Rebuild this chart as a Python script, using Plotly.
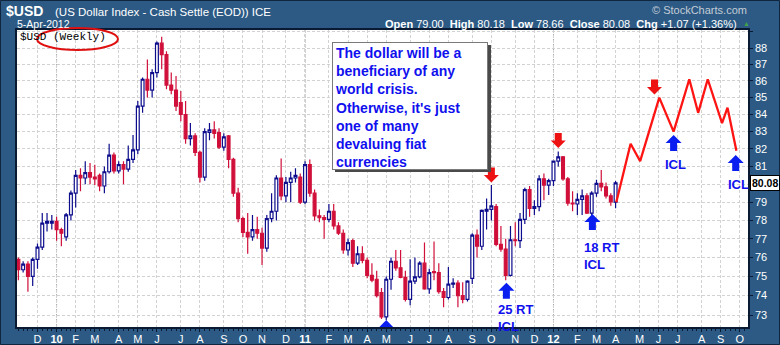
import math
import pandas as pd
import plotly.graph_objects as go

# ---------------- data (weekly candles) ----------------
first_week = "2009-11-09"
opens = [75.9, 75.35, 75.65, 75.0, 75.9, 76.55, 77.85, 77.85, 77.95, 77.5,
         77.1, 78.3, 79.5, 80.5, 80.35, 80.65, 80.4, 80.5, 79.9, 80.7,
         81.65, 80.75, 81.1, 80.85, 81.4, 81.95, 84.5, 86.1, 85.45, 86.5,
         88.3, 87.6, 85.75, 85.45, 84.7, 84.0, 82.6, 82.75, 81.8, 80.4,
         82.95, 83.1, 82.95, 82.1, 82.75, 81.4, 79.5, 78.1, 77.35, 77.1,
         77.5, 77.3, 76.5, 78.1, 78.5, 80.35, 79.35, 80.1, 80.35, 80.4,
         79.0, 81.1, 79.5, 78.25, 78.15, 78.05, 78.5, 77.7, 77.3, 76.4,
         76.9, 75.7, 76.2, 75.85, 75.05, 74.85, 74.15, 72.9, 74.85, 75.8,
         75.45, 74.95, 73.8, 74.75, 74.98, 75.7, 74.35, 75.25, 75.2, 74.2,
         73.9, 74.6, 74.65, 74.0, 73.8, 74.9, 77.2, 76.6, 78.5, 78.6,
         78.75, 76.7, 76.45, 75.05, 76.95, 76.9, 78.05, 79.7, 78.65, 78.75,
         80.3, 79.95, 80.2, 81.3, 81.55, 80.3, 78.95, 78.9, 79.15, 79.35,
         78.4, 79.5, 80.05, 79.85, 79.35, 79.0]
highs = [76.0, 75.8, 75.8, 76.0, 76.75, 78.4, 78.4, 78.3, 78.2, 77.6,
         78.4, 79.65, 80.8, 80.9, 81.3, 81.2, 81.1, 80.6, 81.0, 82.3,
         81.8, 81.3, 81.3, 82.2, 82.8, 84.8, 86.2, 87.3, 86.7, 88.4,
         88.7, 87.8, 86.5, 86.3, 85.4, 84.8, 83.5, 82.9, 81.9, 83.2,
         83.5, 83.6, 83.2, 82.9, 82.8, 81.5, 79.8, 78.2, 78.4, 78.3,
         78.2, 77.6, 78.3, 79.5, 80.5, 81.45, 80.4, 80.7, 80.9, 80.6,
         81.3, 81.4, 79.7, 78.6, 78.3, 78.9, 78.9, 77.9, 77.5, 77.0,
         77.0, 76.6, 76.6, 76.0, 75.7, 75.3, 74.4, 75.0, 76.0, 76.4,
         76.4, 75.3, 75.9, 76.0, 75.8, 76.8, 75.4, 76.85, 75.7, 74.4,
         75.5, 74.9, 74.8, 74.7, 74.8, 77.3, 77.5, 78.6, 79.2, 79.95,
         78.9, 77.7, 77.0, 77.7, 77.9, 78.4, 79.8, 79.9, 79.1, 80.5,
         80.6, 80.3, 81.3, 81.85, 81.6, 80.4, 79.6, 79.5, 79.7, 79.5,
         79.6, 80.25, 80.8, 80.1, 79.5, 80.18]
lows = [74.8, 75.2, 74.2, 74.5, 75.4, 76.4, 77.4, 77.5, 76.9, 76.6,
        76.9, 78.0, 78.7, 79.6, 80.0, 80.0, 79.95, 79.6, 79.5, 80.6,
        80.6, 80.6, 80.0, 80.7, 81.2, 81.7, 84.1, 85.0, 85.0, 86.2,
        86.7, 85.5, 85.2, 84.2, 83.6, 82.3, 82.2, 81.6, 80.1, 80.2,
        82.5, 82.6, 82.0, 81.9, 80.9, 79.3, 77.9, 77.1, 76.2, 76.9,
        77.0, 75.6, 76.3, 77.9, 78.0, 79.1, 79.0, 79.0, 80.1, 78.9,
        78.9, 79.3, 78.0, 77.9, 77.0, 77.9, 77.5, 77.2, 76.2, 76.1,
        75.5, 75.6, 75.7, 74.9, 74.7, 73.9, 72.8, 72.75, 74.3, 75.3,
        74.9, 73.7, 73.5, 74.6, 74.9, 74.3, 74.1, 74.8, 74.1, 73.4,
        73.8, 74.4, 73.4, 73.6, 73.7, 74.6, 76.0, 76.4, 77.5, 78.0,
        76.6, 76.3, 74.8, 75.0, 76.6, 76.5, 77.8, 78.2, 78.3, 78.5,
        79.1, 79.4, 79.9, 81.0, 80.2, 78.8, 78.5, 78.3, 78.3, 78.35,
        78.1, 79.3, 79.6, 79.2, 78.8, 78.66]
closes = [75.35, 75.65, 75.0, 75.9, 76.55, 77.85, 77.95, 77.95, 77.5, 77.3,
          78.3, 79.5, 80.5, 80.35, 80.65, 80.4, 80.3, 79.9, 80.7, 81.65,
          80.75, 81.1, 80.85, 81.4, 81.95, 84.5, 86.1, 85.45, 86.5, 88.3,
          87.6, 85.75, 85.45, 84.5, 84.0, 82.6, 82.75, 81.8, 80.4, 83.0,
          83.1, 82.9, 82.1, 82.7, 81.4, 79.5, 78.1, 77.35, 77.1, 77.5,
          77.3, 76.5, 78.1, 78.5, 80.35, 79.35, 80.1, 80.35, 80.5, 79.0,
          81.1, 79.5, 78.25, 78.15, 78.05, 78.5, 77.7, 77.3, 76.4, 76.8,
          75.7, 76.2, 75.85, 75.05, 74.8, 74.0, 72.9, 74.85, 75.8, 75.45,
          74.95, 73.8, 74.75, 74.98, 75.7, 74.35, 75.2, 75.2, 74.2, 73.9,
          74.6, 74.65, 74.0, 73.8, 74.75, 77.2, 76.6, 78.55, 78.6, 78.8,
          76.7, 76.45, 75.05, 76.95, 76.9, 78.05, 79.7, 78.65, 78.75, 80.3,
          79.95, 80.2, 81.3, 81.55, 80.3, 78.95, 78.9, 79.15, 79.35, 78.4,
          79.5, 80.05, 79.85, 79.35, 79.01, 80.08]

# projected path (red line)
proj_dates = ["2012-04-03", "2012-04-24", "2012-05-08", "2012-06-05", "2012-06-26",
              "2012-07-19", "2012-08-01", "2012-08-15", "2012-09-05", "2012-09-13",
              "2012-09-26"]
proj_values = [79.0, 82.3, 81.3, 85.0, 83.0, 86.1, 84.1, 86.1, 83.5, 84.4, 81.9]

# cycle markers (arrow tips)
top_dates = ["2011-10-03", "2012-01-09", "2012-05-29"]
top_values = [80.1, 82.05, 85.19]
low_dates = ["2011-05-02", "2011-10-25", "2012-02-28", "2012-06-26", "2012-09-25"]
low_values = [72.74, 74.67, 78.35, 82.8, 81.65]

# axis ticks
month_ticks = ["2009-12-07", "2010-01-04", "2010-02-01", "2010-03-01", "2010-04-05",
               "2010-05-03", "2010-05-31", "2010-07-05", "2010-08-02", "2010-09-06",
               "2010-10-04", "2010-11-01", "2010-12-06", "2011-01-03", "2011-02-07",
               "2011-03-07", "2011-04-04", "2011-05-02", "2011-06-06", "2011-07-04",
               "2011-08-01", "2011-09-05", "2011-10-03", "2011-11-07", "2011-12-05",
               "2012-01-02", "2012-02-06", "2012-03-05", "2012-04-02", "2012-05-07",
               "2012-06-04", "2012-07-02", "2012-08-06", "2012-09-03", "2012-10-01"]
month_labels = ["D", "10", "F", "M", "A", "M", "J", "J", "A", "S", "O", "N", "D",
                "11", "F", "M", "A", "M", "J", "J", "A", "S", "O", "N", "D",
                "12", "F", "M", "A", "M", "J", "J", "A", "S", "O"]
price_ticks = list(range(73, 90))
# 80 is hidden behind the last-price tag, 89 has a grid line only
price_labels = [str(v) if v <= 88 and v != 80 else "" for v in price_ticks]

# ---------------- layout helpers ----------------
W_FIG, H_FIG = 780, 345
L, R, T, B = 17, 748, 30, 327
PW, PH = R - L, B - T


def px(x):
    return (x - L) / PW


def py(y):
    return (B - y) / PH


FRAME = "#2c5a84"
FONT = "Liberation Sans, Arial, sans-serif"
BLUE_TXT = "#1010ee"
UP = "#0c0c8c"
DOWN = "#d0103a"

dates = pd.date_range(first_week, periods=len(closes), freq="7D")

fig = go.Figure()
fig.add_trace(go.Candlestick(
    x=dates, open=opens, high=highs, low=lows, close=closes,
    increasing=dict(line=dict(color=UP, width=1.2), fillcolor="white"),
    decreasing=dict(line=dict(color=DOWN, width=1.2), fillcolor=DOWN),
    whiskerwidth=0, showlegend=False, hoverinfo="skip",
))
fig.add_trace(go.Scatter(
    x=proj_dates, y=proj_values, mode="lines",
    line=dict(color="#ff1414", width=2.3), showlegend=False, hoverinfo="skip",
))

shapes = []
# year separators slightly darker
for d, lab in zip(month_ticks, month_labels):
    if lab.isdigit():
        shapes.append(dict(type="line", xref="x", yref="paper", x0=d, x1=d, y0=0, y1=1,
                           line=dict(color="#a8a8a8", width=1, dash="3px,2px"), layer="below"))

down_path = "M0,0 L7.5,7.5 L3.5,7.5 L3.5,15 L-3.5,15 L-3.5,7.5 L-7.5,7.5 Z"
up_path = "M0,0 L8,-8 L3.5,-8 L3.5,-16 L-3.5,-16 L-3.5,-8 L-8,-8 Z"
for d, v in zip(top_dates, top_values):
    shapes.append(dict(type="path", xref="x", yref="y", xsizemode="pixel", ysizemode="pixel",
                       xanchor=d, yanchor=v, path=down_path,
                       fillcolor="#ee1111", line=dict(width=0)))
for d, v in zip(low_dates, low_values):
    shapes.append(dict(type="path", xref="x", yref="y", xsizemode="pixel", ysizemode="pixel",
                       xanchor=d, yanchor=v, path=up_path,
                       fillcolor="#0a1ef0", line=dict(width=0)))

# text box shadow
shapes.append(dict(type="rect", xref="paper", yref="paper",
                   x0=px(335), x1=px(491), y0=py(172), y1=py(45),
                   fillcolor="#4a4a4a", line=dict(width=0)))
# red ellipse round the chart name
shapes.append(dict(type="circle", xref="paper", yref="paper",
                   x0=px(37), x1=px(118), y0=py(50), y1=py(28),
                   line=dict(color="#e01010", width=2)))
# outer frame border
shapes.append(dict(type="rect", xref="paper", yref="paper",
                   x0=px(0.5), x1=px(779.5), y0=py(344.5), y1=py(0.5),
                   line=dict(color="#10263f", width=1)))

ann = []
ann.append(dict(text="<b>$USD</b>", x=px(4), y=py(11), xanchor="left", yanchor="middle",
                font=dict(size=14, color="white", family=FONT)))
ann.append(dict(text="(US Dollar Index - Cash Settle (EOD)) ICE", x=px(53), y=py(12),
                xanchor="left", yanchor="middle", font=dict(size=11.5, color="white", family=FONT)))
ann.append(dict(text="5-Apr-2012", x=px(15), y=py(24), xanchor="left", yanchor="middle",
                font=dict(size=10.5, color="white", family=FONT)))
ann.append(dict(text="© StockCharts.com", x=px(749), y=py(10), xanchor="right", yanchor="middle",
                font=dict(size=11, color="#c4ccd6", family=FONT)))
ann.append(dict(text=(f"<b>Open</b> {opens[-1]:.2f}  <b>High</b> {highs[-1]:.2f}  "
                      f"<b>Low</b> {lows[-1]:.2f}  <b>Close</b> {closes[-1]:.2f}  "
                      f"<b>Chg</b> +1.07 (+1.36%)"),
                x=px(739), y=py(23.5), xanchor="right", yanchor="middle",
                font=dict(size=11, color="white", family=FONT)))
ann.append(dict(text="▲", x=px(741), y=py(23), xanchor="left", yanchor="middle",
                font=dict(size=7, color="#3fa34d", family=FONT)))
ann.append(dict(text="$USD (Weekly)", x=px(18), y=py(37), xanchor="left", yanchor="middle",
                font=dict(size=11, color="black", family="Liberation Mono, DejaVu Sans Mono, monospace")))
ann.append(dict(text=("The dollar will be a<br>beneficiary of any<br>world crisis.<br>"
                      "Otherwise, it's just<br>one of many<br>devaluing fiat<br>currencies"),
                x=px(332), y=py(42), xanchor="left", yanchor="top", align="left",
                width=150, height=122, valign="top",
                bgcolor="white", bordercolor="#7a7a7a", borderwidth=1, borderpad=2,
                font=dict(size=14, color=BLUE_TXT, family=FONT, weight="bold")))
for txt, x, y in [("25 RT<br>ICL", 496, 300), ("18 RT<br>ICL", 582, 238),
                  ("ICL", 663, 155), ("ICL", 726, 175)]:
    ann.append(dict(text=f"<b>{txt}</b>", x=px(x), y=py(y), xanchor="left", yanchor="top",
                    align="left", font=dict(size=13, color=BLUE_TXT, family=FONT)))
ann.append(dict(text=f"<b>{closes[-1]:.2f}</b>", xref="paper", yref="y", x=1, xshift=2,
                y=math.log10(closes[-1]), xanchor="left", yanchor="middle",
                bgcolor="white", bordercolor="#000000", borderwidth=1, borderpad=1,
                font=dict(size=10.5, color="black", family=FONT)))
for a in ann:
    a.setdefault("xref", "paper")
    a.setdefault("yref", "paper")
    a["showarrow"] = False

fig.update_layout(
    width=W_FIG, height=H_FIG, autosize=False,
    margin=dict(l=L, r=W_FIG - R, t=T, b=H_FIG - B, autoexpand=False),
    paper_bgcolor=FRAME, plot_bgcolor="white",
    shapes=shapes, annotations=ann, showlegend=False,
    boxgap=0.15,
    xaxis=dict(
        type="date", range=["2009-11-07", "2012-10-13"],
        rangeslider=dict(visible=False), automargin=False,
        tickmode="array", tickvals=month_ticks,
        ticktext=[f"<b>{t}</b>" if t.isdigit() else t for t in month_labels],
        tickfont=dict(size=11, color="white", family=FONT),
        ticks="outside", ticklen=3, tickcolor="#0a1a33", ticklabelstandoff=-2,
        showgrid=True, gridcolor="#d2d2d2", griddash="3px,2px", gridwidth=1,
        minor=dict(tickmode="linear", tick0=first_week, dtick=7 * 24 * 3600 * 1000,
                   ticks="outside", ticklen=2, tickcolor="#0a1a33", showgrid=False),
        showline=True, linecolor="#0a1a33", linewidth=1.5, mirror=True,
        zeroline=False, fixedrange=True,
    ),
    yaxis=dict(
        type="log", range=[math.log10(72.39), math.log10(89.12)], side="right",
        automargin=False,
        tickmode="array", tickvals=price_ticks, ticktext=price_labels,
        tickfont=dict(size=11, color="white", family=FONT),
        ticks="outside", ticklen=3, tickcolor="#0a1a33",
        showgrid=True, gridcolor="#d2d2d2", griddash="3px,2px", gridwidth=1,
        showline=True, linecolor="#0a1a33", linewidth=1.5, mirror=True,
        zeroline=False, fixedrange=True,
    ),
)

fig.write_html("out.html")
